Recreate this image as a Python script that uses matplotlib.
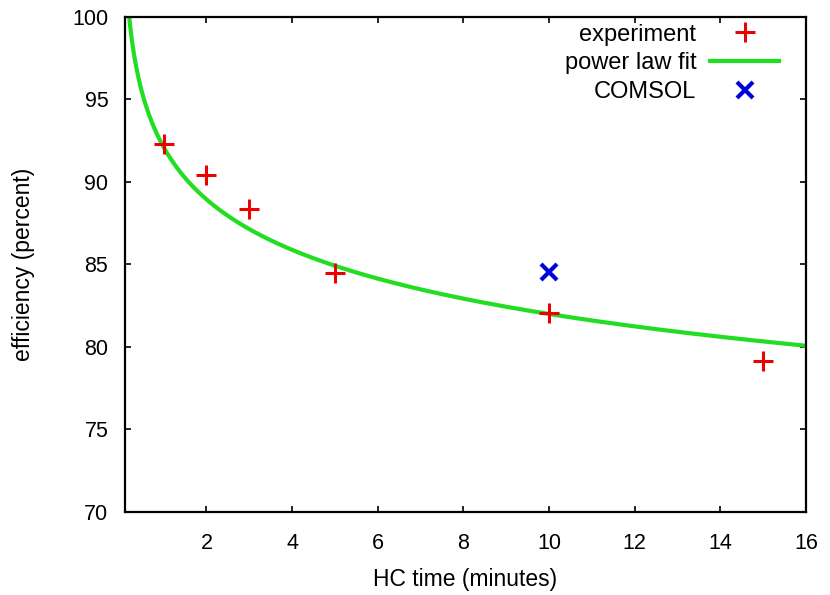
import numpy as np
import matplotlib
matplotlib.use("Agg")
import matplotlib.pyplot as plt

plt.rcParams['font.family'] = ['Liberation Sans', 'DejaVu Sans']

# measured hot-carrier efficiency
exp_time = [1, 2, 3, 5, 10, 15]
exp_eff = [92.3, 90.4, 88.35, 84.5, 82.05, 79.15]

# simulation point
comsol_time = [10]
comsol_eff = [84.55]

# power law fit  eff = A * t^B
FIT_A = 92.1
FIT_B = -0.0505

x_ticks = [2, 4, 6, 8, 10, 12, 14, 16]
y_ticks = [70, 75, 80, 85, 90, 95, 100]

fig = plt.figure(figsize=(8.3, 5.95), dpi=100)
ax = fig.add_axes([125 / 830, 1 - 512 / 595, (806 - 125) / 830, (512 - 16.5) / 595])

t = np.linspace(0.1, 16, 400)
ax.plot(exp_time, exp_eff, linestyle='none', marker='+', color='#ee0000',
        markersize=14.5, markeredgewidth=2.2, label='experiment', zorder=3)
ax.plot(t, FIT_A * t ** FIT_B, color='#22dd22', lw=3, label='power law fit', zorder=2)
ax.plot(comsol_time, comsol_eff, linestyle='none', marker='x', color='#0000dd',
        markersize=11.5, markeredgewidth=3, label='COMSOL', zorder=3)

ax.set_xlim(0.1, 16)
ax.set_ylim(70, 100)
ax.set_xticks(x_ticks)
ax.set_yticks(y_ticks)
ax.tick_params(direction='in', top=True, right=True, length=4, width=1.2,
               labelsize=15.5, colors='black')
ax.tick_params(axis='x', pad=15)
ax.tick_params(axis='y', pad=12)
for s in ax.spines.values():
    s.set_linewidth(1.6)

ax.set_xlabel('HC time (minutes)', fontsize=16.5, labelpad=10)
ax.set_ylabel('efficiency (percent)', fontsize=16.5, labelpad=27)

ax.legend(loc='upper right', bbox_to_anchor=(0.967, 0.995), frameon=False,
          markerfirst=False, fontsize=17, handlelength=2.9, handletextpad=0.6,
          labelspacing=0.28, borderpad=0.2, borderaxespad=0.0)

fig.savefig('out.png', dpi=100)
